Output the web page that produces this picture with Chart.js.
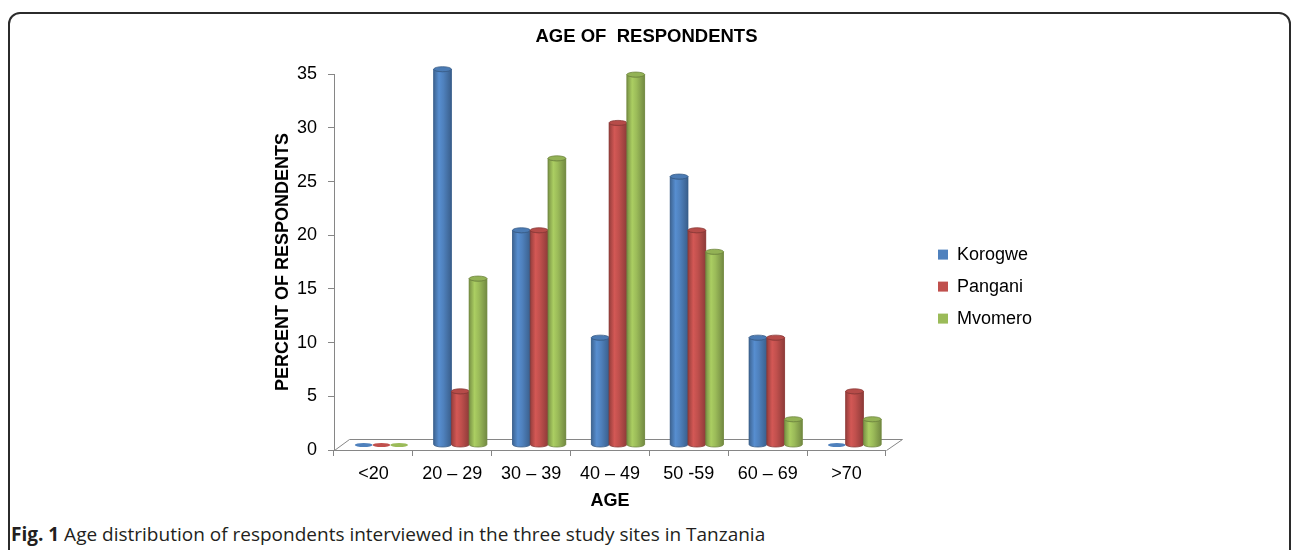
<!DOCTYPE html>
<html>
<head>
<meta charset="utf-8">
<title>Age of respondents</title>
<script src="https://cdn.jsdelivr.net/npm/chart.js@4.4.0/dist/chart.umd.min.js"></script>
<style>
  html, body { margin: 0; padding: 0; background: #fff; }
  body { width: 1292px; height: 550px; position: relative; overflow: hidden; }
  #frame {
    position: absolute; left: 8px; top: 12px; width: 1279px; height: 600px;
    border: 2px solid #2b2b2b; border-radius: 12px;
  }
  #wrap { position: absolute; left: 0; top: 0; width: 1292px; height: 520px; }
  #caption {
    position: absolute; left: 11px; top: 521px;
    font-family: 'Open Sans', sans-serif; font-size: 19px; color: #231f20; white-space: nowrap;
  }
</style>
</head>
<body>
<div id="frame"></div>
<div id="wrap"><canvas id="ageChart"></canvas></div>
<div id="caption"><b>Fig. 1</b> Age distribution of respondents interviewed in the three study sites in Tanzania</div>
<script>
// === DATA ===
const ageGroups = ['<20', '20 – 29', '30 – 39', '40 – 49', '50 -59', '60 – 69', '>70'];
const korogwe = [0, 35, 20, 10, 25, 10, 0];
const pangani = [0, 5, 20, 30, 20, 10, 5];
const mvomero = [0, 15.5, 26.7, 34.5, 18, 2.4, 2.4];
const yMax = 35;
const yStep = 5;

// === STYLE ===
const FONT = "'Liberation Sans', Arial, sans-serif";
const AXIS_GREY = '#868686';
const DEPTH_X = 8;   // bars sit half way into the 3D floor
const DEPTH_Y = -5;
const FLOOR_X = 15;  // full floor depth
const FLOOR_Y = -11;
const CAP = 2.5;     // vertical radius of cylinder caps

Chart.defaults.font.family = FONT;
Chart.defaults.color = '#000';

// === COLOUR HELPERS ===
function shade(hex, f) {
  const n = parseInt(hex.slice(1), 16);
  const ch = [(n >> 16) & 255, (n >> 8) & 255, n & 255].map(c => Math.max(0, Math.min(255, Math.round(c * f))));
  return `rgb(${ch[0]},${ch[1]},${ch[2]})`;
}

// === CYLINDER DRAWING ===
function drawCylinder(ctx, x, top, base, w, color) {
  const rx = w / 2;
  const left = x - rx;
  const right = x + rx;
  const edge = shade(color, 0.72);

  if (Math.abs(base - top) < 0.5) {
    // zero value: just the flat disc on the floor
    ctx.beginPath();
    ctx.ellipse(x, base, rx, CAP * 0.8, 0, 0, Math.PI * 2);
    ctx.fillStyle = color;
    ctx.fill();
    return;
  }

  const g = ctx.createLinearGradient(left, 0, right, 0);
  g.addColorStop(0, shade(color, 0.78));
  g.addColorStop(0.3, shade(color, 1.1));
  g.addColorStop(0.55, shade(color, 1.0));
  g.addColorStop(1, shade(color, 0.74));

  ctx.beginPath();
  ctx.moveTo(left, top);
  ctx.lineTo(left, base);
  ctx.ellipse(x, base, rx, CAP, 0, Math.PI, 0, true);
  ctx.lineTo(right, top);
  ctx.ellipse(x, top, rx, CAP, 0, 0, Math.PI, false);
  ctx.closePath();
  ctx.fillStyle = g;
  ctx.fill();
  ctx.lineWidth = 0.8;
  ctx.strokeStyle = edge;
  ctx.stroke();

  ctx.beginPath();
  ctx.ellipse(x, top, rx, CAP, 0, 0, Math.PI * 2);
  ctx.fillStyle = shade(color, 0.95);
  ctx.fill();
  ctx.stroke();
}

const cylinders = {
  id: 'cylinders',
  beforeDatasetsDraw(chart) {
    const ctx = chart.ctx;
    const { left, right, bottom } = chart.chartArea;

    // floor of the 3D plot
    ctx.save();
    ctx.beginPath();
    ctx.moveTo(left + 0.5, bottom + 0.5);
    ctx.lineTo(left + FLOOR_X + 0.5, bottom + FLOOR_Y + 0.5);
    ctx.lineTo(right + FLOOR_X + 1.5, bottom + FLOOR_Y + 0.5);
    ctx.lineTo(right + 0.5, bottom + 0.5);
    ctx.strokeStyle = AXIS_GREY;
    ctx.lineWidth = 1;
    ctx.stroke();
    ctx.restore();

    ctx.save();
    ctx.translate(DEPTH_X, DEPTH_Y);
  },
  afterDatasetsDraw(chart) {
    const ctx = chart.ctx;
    chart.data.datasets.forEach((ds, i) => {
      const meta = chart.getDatasetMeta(i);
      meta.data.forEach(bar => {
        const { x, y, base, width } = bar.getProps(['x', 'y', 'base', 'width'], true);
        drawCylinder(ctx, x, y, base, width, ds.backgroundColor);
      });
    });
    ctx.restore();
  }
};

// === CHART ===
const ctx = document.getElementById('ageChart').getContext('2d');

new Chart(ctx, {
  type: 'bar',
  data: {
    labels: ageGroups,
    datasets: [
      { label: 'Korogwe', data: korogwe, backgroundColor: '#4F81BD', borderWidth: 0 },
      { label: 'Pangani', data: pangani, backgroundColor: '#C0504D', borderWidth: 0 },
      { label: 'Mvomero', data: mvomero, backgroundColor: '#9BBB59', borderWidth: 0 }
    ]
  },
  options: {
    responsive: true,
    maintainAspectRatio: false,
    animation: false,
    datasets: { bar: { categoryPercentage: 0.675, barPercentage: 1.0 } },
    layout: { padding: { left: 251, right: 250, top: 0, bottom: 0 } },
    plugins: {
      title: {
        display: true,
        text: 'AGE OF  RESPONDENTS',
        color: '#000',
        font: { size: 18.5, weight: 'bold' },
        padding: { top: 26, bottom: 26 }
      },
      legend: {
        position: 'right',
        align: 'start',
        title: { display: true, text: '', font: { size: 18 }, padding: { top: 210, bottom: 0 } },
        labels: { boxWidth: 10, boxHeight: 10, padding: 14, color: '#000', font: { size: 18 } }
      },
      tooltip: { enabled: false }
    },
    scales: {
      x: {
        grid: { drawOnChartArea: false, drawTicks: true, tickLength: 6, color: AXIS_GREY },
        border: { color: AXIS_GREY },
        ticks: { color: '#000', font: { size: 18 }, padding: 7, maxRotation: 0 },
        title: { display: true, text: 'AGE', color: '#000', font: { size: 18, weight: 'bold' }, padding: { top: 2, bottom: 8 } },
        afterFit(scale) { scale.height = 70; }
      },
      y: {
        min: 0,
        max: yMax,
        grid: { drawOnChartArea: false, drawTicks: true, tickLength: 6, color: AXIS_GREY },
        border: { color: AXIS_GREY },
        ticks: { stepSize: yStep, color: '#000', font: { size: 18 }, padding: 11 },
        title: { display: true, text: 'PERCENT OF RESPONDENTS', color: '#000', font: { size: 18, weight: 'bold' }, padding: { top: 21, bottom: 0 } },
        afterFit(scale) { scale.width = 83; }
      },
      yPad: {
        type: 'linear',
        position: 'right',
        display: true,
        grid: { display: false },
        border: { display: false },
        ticks: { display: false },
        afterFit(scale) { scale.width = 38; }
      }
    }
  },
  plugins: [cylinders]
});
</script>
</body>
</html>
